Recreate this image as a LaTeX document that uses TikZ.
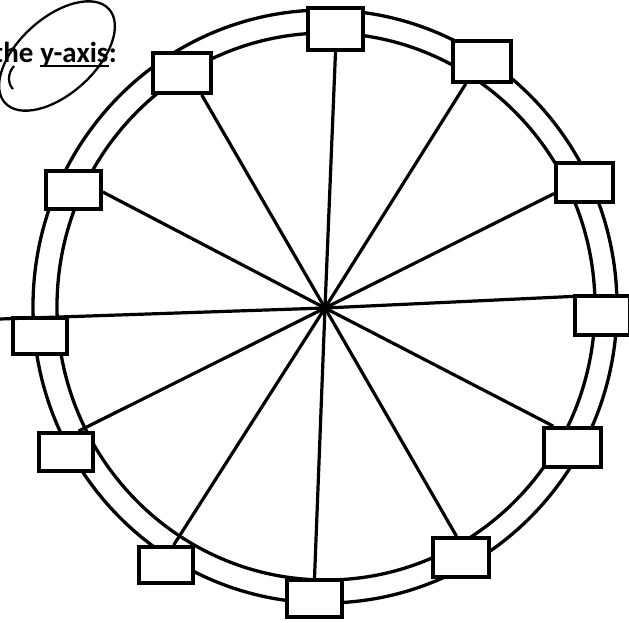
\documentclass[tikz,border=0pt]{standalone}
\usepackage{fontspec}
\setmainfont{Carlito}
\begin{document}
\begin{tikzpicture}[x=1pt,y=-1pt,
  ring/.style={line width=3.3pt},
  spoke/.style={line width=3.2pt},
  bx/.style={draw,fill=white,line width=3.8pt,inner sep=0pt,minimum width=55pt,minimum height=39pt},
  lbl/.style={inner sep=0pt,font=\bfseries\fontsize{29}{32}\selectfont}]
\useasboundingbox (0,0) rectangle (629,622);
% rings
\draw[ring] (325,306.5) ellipse [x radius=292pt, y radius=296.5pt];
\draw[ring] (326,306.5) ellipse [x radius=269pt, y radius=273.5pt];
% hub
\coordinate (c) at (325,308);
\coordinate (lend) at (0,319);
% boxes
\node[bx,minimum width=55pt,minimum height=42pt] (b1) at (335.5,29) {};
\node[bx,minimum width=58pt,minimum height=41pt] (b2) at (482,61.5) {};
\node[bx,minimum width=57pt,minimum height=39pt] (b3) at (584.5,182.5) {};
\node[bx,minimum width=55pt,minimum height=39pt] (b4) at (602.5,315.5) {};
\node[bx,minimum width=57pt,minimum height=39pt] (b5) at (572.5,447.5) {};
\node[bx,minimum width=56pt,minimum height=39pt] (b6) at (461,557.5) {};
\node[bx,minimum width=55pt,minimum height=37pt] (b7) at (314.5,598.5) {};
\node[bx,minimum width=54pt,minimum height=36pt] (b8) at (166,565) {};
\node[bx,minimum width=54pt,minimum height=38pt] (b9) at (66,452) {};
\node[bx,minimum width=54pt,minimum height=36pt] (b10) at (40,336) {};
\node[bx,minimum width=55pt,minimum height=38pt] (b11) at (73.5,190) {};
\node[bx,minimum width=58pt,minimum height=40pt] (b12) at (182,73) {};
% spokes
\draw[spoke] (c) -- (b1.south);
\draw[spoke] (c) -- (b2.234);
\draw[spoke] (c) -- (b3.200);
\draw[spoke] (c) -- (b4.147);
\draw[spoke] (c) -- (b5.132);
\draw[spoke] (c) -- (b6.102);
\draw[spoke] (c) -- (b7.north);
\draw[spoke] (c) -- (b8.69);
\draw[spoke] (c) -- (b9.59);
\draw[spoke] (c) -- (lend);
\draw[spoke] (c) -- (b11.-4);
\draw[spoke] (c) -- (b12.-48);
% label
\node[lbl,anchor=base west] (w1) at (-7,62) {the};
\node[lbl,anchor=base west] (w2) at ([xshift=6.5pt]w1.base east) {y-axis};
\node[lbl,anchor=base west] (w3) at (w2.base east) {:};
\draw[line width=2.2pt] ([yshift=-4pt]w2.base west) -- ([yshift=-4pt]w2.base east);
% hand-drawn loop round the label
\draw[line width=2.3pt] (57,56) ellipse [x radius=70pt, y radius=38pt, rotate=42];
\draw[line width=2.2pt] (14,66) .. controls (7,74) and (8,84) .. (13,89);
\end{tikzpicture}
\end{document}
